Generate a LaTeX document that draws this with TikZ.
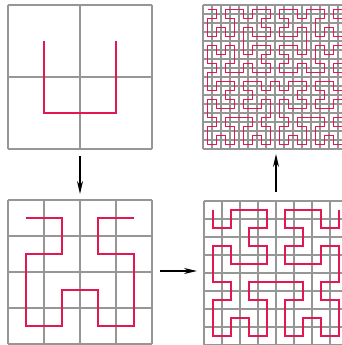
\documentclass[tikz,border=0pt]{standalone}
\usetikzlibrary{arrows.meta}
\definecolor{hred}{RGB}{226,24,82}
\definecolor{hgray}{RGB}{150,150,150}
\tikzset{
  gridline/.style={draw=hgray,line width=#1},
  curveline/.style={draw=hred,line width=#1,line join=miter},
  flowarrow/.style={draw=black,line width=1.6pt,-{Stealth[length=13pt,width=6pt]}}
}
% turtle-style Hilbert curve generator
\newcount\hdir
\newdimen\hx \newdimen\hy \newdimen\hstep
\def\hL{\advance\hdir 1 \ifnum\hdir>3 \advance\hdir -4 \fi}
\def\hR{\advance\hdir -1 \ifnum\hdir<0 \advance\hdir 4 \fi}
\def\hF{\ifcase\hdir \advance\hx\hstep \or \advance\hy\hstep \or \advance\hx-\hstep \or \advance\hy-\hstep \fi
  \edef\hpath{\hpath--(\the\hx,\the\hy)}}
\def\hA#1{\ifnum#1>0 \expandafter\hAbody\expandafter{\the\numexpr#1-1\relax}\fi}
\def\hAbody#1{\hR\hB{#1}\hF\hL\hA{#1}\hF\hA{#1}\hL\hF\hB{#1}\hR}
\def\hB#1{\ifnum#1>0 \expandafter\hBbody\expandafter{\the\numexpr#1-1\relax}\fi}
\def\hBbody#1{\hL\hA{#1}\hF\hR\hB{#1}\hF\hB{#1}\hR\hF\hA{#1}\hL}
\def\hilbert#1#2#3#4#5{%
  \hx=#1pt \hy=#2pt \hstep=#3pt \hdir=0 \def\hpath{}%
  \hA{#4}%
  \edef\htmp{\noexpand\draw[\unexpanded{#5}] (#1pt,#2pt) \hpath;}\htmp}
\begin{document}
\begin{tikzpicture}[x=1pt,y=1pt]
\useasboundingbox (0,0) rectangle (342,345);
\clip (0,0) rectangle (342,345);
% order 1 (top left)
\draw[gridline=1.8pt,shift={(8,196)},step=72] (0,0) grid (144,144);
\hilbert{44}{304}{72}{1}{curveline=1.6pt}
% order 2 (bottom left)
\draw[gridline=1.8pt,shift={(8,1)},step=36] (0,0) grid (144,144);
\hilbert{26}{127}{36}{2}{curveline=1.6pt}
% order 3 (bottom right)
\draw[gridline=1.4pt,shift={(204,0)},step=18] (0,0) grid (144,144);
\hilbert{213}{135}{18}{3}{curveline=1.6pt}
% order 4 (top right)
\draw[gridline=1.1pt,shift={(203,196)},step=9] (0,0) grid (144,144);
\hilbert{207.5}{335.5}{9}{4}{curveline=1.8pt}
% arrows
\coordinate (d1) at (80,189); \coordinate (d2) at (80,151);
\coordinate (r1) at (160,74); \coordinate (r2) at (197,74);
\coordinate (u1) at (276,153); \coordinate (u2) at (276,191);
\draw[flowarrow] (d1) -- (d2);
\draw[flowarrow] (r1) -- (r2);
\draw[flowarrow] (u1) -- (u2);
\end{tikzpicture}
\end{document}
